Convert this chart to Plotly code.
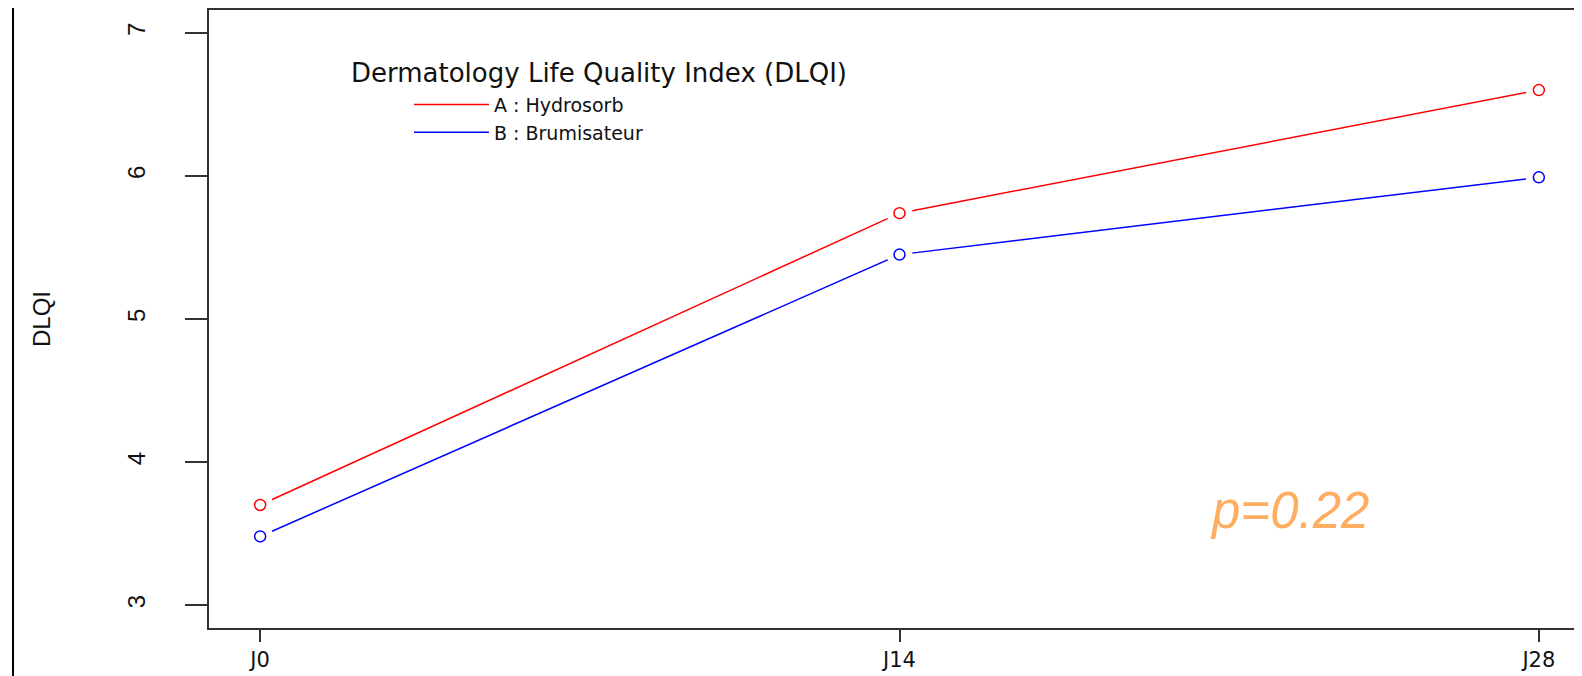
import plotly.graph_objects as go

days = ["J0", "J14", "J28"]
x_pos = [0, 1, 2]
hydrosorb = [3.70, 5.74, 6.60]
brumisateur = [3.48, 5.45, 5.99]
series_names = ["A : Hydrosorb", "B : Brumisateur"]
y_ticks = [3, 4, 5, 6, 7]
legend_title = "Dermatology Life Quality Index (DLQI)"

colors = ["#ff0000", "#0000ff"]
wide_font = "DejaVu Sans, Liberation Sans, Arial, sans-serif"
font_family = "Liberation Sans, Arial, sans-serif"

PW, PH = 1381, 620  # plot area size

fig = go.Figure()
for vals, name, col in zip([hydrosorb, brumisateur], series_names, colors):
    fig.add_trace(go.Scatter(x=x_pos, y=vals, mode="lines", name=name,
                             line=dict(color=col, width=1.5)))
for vals, col in zip([hydrosorb, brumisateur], colors):
    fig.add_trace(go.Scatter(x=x_pos, y=vals, mode="markers", showlegend=False,
                             hoverinfo="skip",
                             marker=dict(size=26, color="white", line=dict(width=0))))
for vals, col in zip([hydrosorb, brumisateur], colors):
    fig.add_trace(go.Scatter(x=x_pos, y=vals, mode="markers", showlegend=False,
                             marker=dict(symbol="circle-open", size=11, color=col,
                                         line=dict(width=1.5, color=col))))

fig.add_annotation(x=1.61, y=3.66, xref="x", yref="y", text="<i>p=0.22</i>",
                   showarrow=False, font=dict(size=51, color="#FFAD60", family=font_family))

# legend title
fig.add_annotation(x=(590 - 200) / PW, y=1 - 63 / PH, xref="paper", yref="paper",
                   text=legend_title, showarrow=False, xanchor="center", yanchor="middle",
                   font=dict(size=26, color="#111", family=wide_font))

# outer image border on left
fig.add_shape(type="line", xref="paper", yref="paper", x0=-196/PW, x1=-196/PW,
              y0=-0.2, y1=1.05, line=dict(color="black", width=2))

fig.update_layout(
    width=1582, height=676,
    margin=dict(l=201, r=0, t=0, b=56),
    paper_bgcolor="white", plot_bgcolor="white",
    font=dict(family=font_family, color="#111", size=20),
    showlegend=True,
    legend=dict(x=(400 - 200) / PW, y=1 - 76 / PH, xanchor="left", yanchor="top",
                font=dict(size=19, family=wide_font), bgcolor="rgba(0,0,0,0)",
                tracegroupgap=0, itemwidth=75),
    xaxis=dict(range=[-0.08, 2.08], tickvals=x_pos, ticktext=days, showgrid=False,
               zeroline=False, showline=True, linecolor="#333", linewidth=2, mirror=True,
               ticks="outside", ticklen=12, tickcolor="#333", tickwidth=2,
               tickfont=dict(size=21, family=wide_font), ticklabelstandoff=0),
    yaxis=dict(range=[2.84, 7.16], tickvals=y_ticks, showgrid=False, zeroline=False,
               showline=True, linecolor="#333", linewidth=2,
               ticks="outside", ticklen=22, tickcolor="#333", tickwidth=2,
               tickangle=-90, tickfont=dict(size=24), ticklabelstandoff=30,
               title=dict(text="DLQI", font=dict(size=24), standoff=66)),
)

fig.write_html("out.html")
